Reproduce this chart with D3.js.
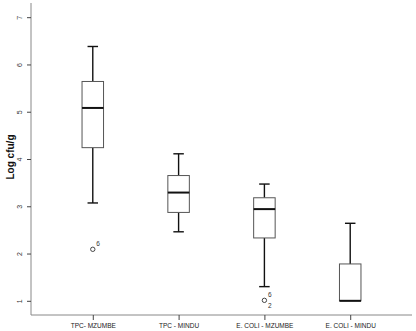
<!DOCTYPE html>
<html>
<head>
<meta charset="utf-8">
<script src="https://cdn.jsdelivr.net/npm/d3@7"></script>
<style>
  html, body { margin: 0; padding: 0; background: #fff; }
  svg { display: block; font-family: "Liberation Sans", Arial, sans-serif; }
</style>
</head>
<body>
<svg id="chart" width="416" height="331"></svg>
<script>
// Box-plot summaries (log cfu/g)
const categories = ["TPC- MZUMBE", "TPC - MINDU", "E. COLI  - MZUMBE", "E. COLI - MINDU"];
const whiskerLow  = [3.07, 2.46, 1.30, 1.00];
const q1          = [4.24, 2.87, 2.33, 1.00];
const median      = [5.08, 3.29, 2.94, 1.00];
const q3          = [5.64, 3.65, 3.18, 1.78];
const whiskerHigh = [6.38, 4.11, 3.47, 2.64];
// Outliers: [category index, value, case labels]
const outliers = [
  [0, 2.09, ["6"]],
  [2, 1.01, ["6", "2"]]
];
const yTicks = [1, 2, 3, 4, 5, 6, 7];

const svg = d3.select("#chart");
const plotLeft = 31, plotRight = 412, plotTop = 3, plotBottom = 315;

const y = d3.scaleLinear().domain([0.70, 7.30]).range([plotBottom, plotTop]);
const x = d3.scalePoint().domain(categories).range([plotLeft, plotRight]).padding(0.72);

const axisColor = "#888";

// Y axis
const yAxis = svg.append("g").attr("transform", `translate(${plotLeft},0)`)
  .call(d3.axisLeft(y).tickValues(yTicks).tickSize(4).tickSizeOuter(0).tickFormat(d3.format("d")));
yAxis.select(".domain").attr("stroke", axisColor).attr("d", `M0,${plotTop}V${plotBottom}`);
yAxis.selectAll(".tick line").attr("stroke", "#444");
yAxis.selectAll(".tick text")
  .attr("font-size", 7).attr("fill", "#333")
  .attr("transform", "rotate(-90)")
  .attr("x", 0).attr("y", -10.5).attr("dy", "0")
  .attr("text-anchor", "middle")
  .attr("dominant-baseline", "middle");

// X axis
const xAxis = svg.append("g").attr("transform", `translate(0,${plotBottom})`)
  .call(d3.axisBottom(x).tickSize(5).tickSizeOuter(0));
xAxis.select(".domain").attr("stroke", axisColor).attr("d", `M${plotLeft},0H${plotRight}`);
xAxis.selectAll(".tick line").attr("stroke", "#444");
xAxis.selectAll(".tick text").attr("font-size", 6.5).attr("fill", "#222").attr("y", 8).attr("dy", "0.71em");

// Y axis title
svg.append("text")
  .attr("transform", "translate(14,157) rotate(-90)")
  .attr("text-anchor", "middle")
  .attr("font-size", 10).attr("font-weight", "bold").attr("fill", "#111")
  .text("Log cfu/g");

const boxW = 21.5, capW = 10.5;
const g = svg.append("g");

categories.forEach((c, i) => {
  const cx = x(c);
  // whiskers
  if (whiskerHigh[i] > q3[i]) {
    g.append("line").attr("x1", cx).attr("x2", cx).attr("y1", y(q3[i])).attr("y2", y(whiskerHigh[i]))
      .attr("stroke", "#111").attr("stroke-width", 1.4);
    g.append("line").attr("x1", cx - capW / 2).attr("x2", cx + capW / 2)
      .attr("y1", y(whiskerHigh[i])).attr("y2", y(whiskerHigh[i]))
      .attr("stroke", "#111").attr("stroke-width", 1.4);
  }
  if (whiskerLow[i] < q1[i]) {
    g.append("line").attr("x1", cx).attr("x2", cx).attr("y1", y(q1[i])).attr("y2", y(whiskerLow[i]))
      .attr("stroke", "#111").attr("stroke-width", 1.4);
    g.append("line").attr("x1", cx - capW / 2).attr("x2", cx + capW / 2)
      .attr("y1", y(whiskerLow[i])).attr("y2", y(whiskerLow[i]))
      .attr("stroke", "#111").attr("stroke-width", 1.4);
  }
  // box
  g.append("rect")
    .attr("x", cx - boxW / 2).attr("width", boxW)
    .attr("y", y(q3[i])).attr("height", y(q1[i]) - y(q3[i]))
    .attr("fill", "#fff").attr("stroke", "#555").attr("stroke-width", 1);
  // median
  g.append("line").attr("x1", cx - boxW / 2).attr("x2", cx + boxW / 2)
    .attr("y1", y(median[i])).attr("y2", y(median[i]))
    .attr("stroke", "#111").attr("stroke-width", 2);
});

// outliers with case labels
outliers.forEach(([i, v, labels]) => {
  const cx = x(categories[i]), cy = y(v);
  g.append("circle").attr("cx", cx).attr("cy", cy).attr("r", 2.2)
    .attr("fill", "none").attr("stroke", "#333").attr("stroke-width", 0.9);
  labels.forEach((lab, k) => {
    g.append("text").attr("x", cx + 3.5).attr("y", k === 0 ? cy - 3 : cy + 7.5)
      .attr("font-size", 6.5).attr("fill", "#333").text(lab);
  });
});
</script>
</body>
</html>
